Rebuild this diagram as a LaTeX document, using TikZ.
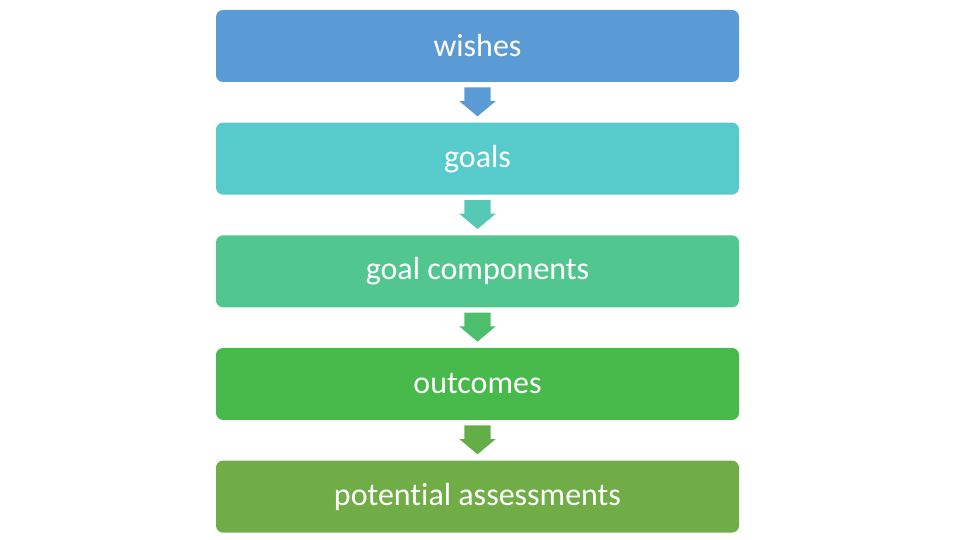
\documentclass[tikz,border=0pt]{standalone}
\usepackage{fontspec}
\setmainfont{Carlito}[Ligatures=NoCommon]
\usepackage{tikz}
\usetikzlibrary{positioning,shapes.arrows}

\definecolor{wishblue}{HTML}{5B9BD5}
\definecolor{goalteal}{HTML}{57CBCC}
\definecolor{compgreen}{HTML}{52C68F}
\definecolor{outgreen}{HTML}{48B94B}
\definecolor{assgreen}{HTML}{70AD47}
\definecolor{arrteal}{HTML}{55C9B6}
\definecolor{arrgreen}{HTML}{4DBF6C}
\definecolor{arrolive}{HTML}{63AE47}

\begin{document}
\begin{tikzpicture}[
x=1pt, y=-1pt,
font=\fontsize{32}{38}\selectfont,
level/.style={rectangle, rounded corners=7pt, draw=none, minimum width=523pt,
  minimum height=72pt, text=white, inner sep=0pt},
downarrow/.style={yshift=6pt, single arrow, draw=none, rotate=-90, minimum height=29pt,
  inner xsep=0pt, inner ysep=13pt, text height=0pt, text depth=0pt,
  single arrow head extend=5pt, single arrow tip angle=100}
]
    % Fix the canvas
    \useasboundingbox (0,0) rectangle (960,540);

    % Draw the levels
    \node[level, fill=wishblue] (wishes) at (477.5,46) {wishes};
    \node[level, fill=goalteal, below=40.25pt of wishes] (goals) {goals};
    \node[level, fill=compgreen, below=40.25pt of goals] (components) {goal components};
    \node[level, fill=outgreen, below=40.25pt of components] (outcomes) {outcomes};
    \node[level, fill=assgreen, below=40.25pt of outcomes] (assessments) {potential assessments};

    % Block arrows between the levels
    \path (wishes) -- (goals) node[midway, downarrow, fill=wishblue] (arr1) {};
    \path (goals) -- (components) node[midway, downarrow, fill=arrteal] (arr2) {};
    \path (components) -- (outcomes) node[midway, downarrow, fill=arrgreen] (arr3) {};
    \path (outcomes) -- (assessments) node[midway, downarrow, fill=arrolive] (arr4) {};

\end{tikzpicture}
\end{document}
